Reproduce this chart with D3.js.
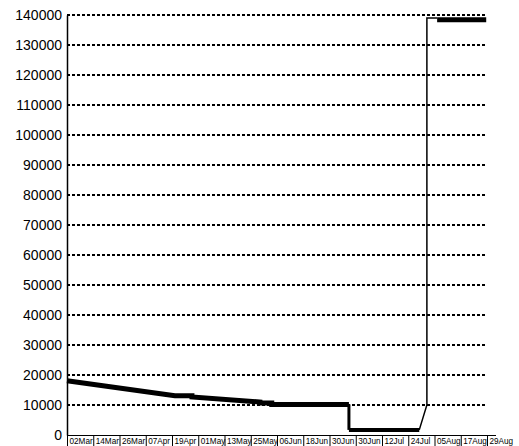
<!DOCTYPE html>
<html>
<head>
<meta charset="utf-8">
<script src="https://cdn.jsdelivr.net/npm/d3@7"></script>
<style>
  body { margin: 0; background: #fff; }
  text { font-family: "Liberation Sans", Arial, sans-serif; fill: #000; }
</style>
</head>
<body>
<div id="chart"></div>
<script>
// tick labels along the bottom (index position = order)
var dateLabels = ["02Mar", "14Mar", "26Mar", "07Apr", "19Apr", "01May", "13May", "25May",
                  "06Jun", "18Jun", "30Jun", "30Jun", "12Jul", "24Jul", "05Aug", "17Aug", "29Aug"];
var yTicks = [0, 10000, 20000, 30000, 40000, 50000, 60000, 70000,
              80000, 90000, 100000, 110000, 120000, 130000, 140000];

// series as [label index position, value]
var declineSeries = [[0, 18100], [4.11, 13100], [4.76, 13100], [4.76, 12700], [7.35, 11000],
                     [7.35, 10700], [7.8, 10700], [7.8, 10200], [10.74, 10200]];
var dropSeries = [[10.74, 10200], [10.74, 1700]];
var lowSeries = [[10.74, 1700], [13.42, 1700]];
var jumpSeries = [[13.42, 1700], [13.71, 10000], [13.71, 139000], [14.1, 139000]];
var topSeries = [[14.1, 138400], [15.97, 138400]];

var fullwidth = 519, fullheight = 446;
var margin = {top: 15, right: 32, bottom: 11, left: 67};
var width = fullwidth - margin.left - margin.right;
var height = fullheight - margin.top - margin.bottom;

var svg = d3.select("#chart").append("svg")
    .attr("width", fullwidth)
    .attr("height", fullheight)
    .append("g")
    .attr("transform", "translate(" + margin.left + "," + margin.top + ")");

var xScale = d3.scaleLinear().domain([0, dateLabels.length - 1]).range([0, width]);
var yScale = d3.scaleLinear().domain([0, 140000]).range([height, 0]);

// dashed grid
svg.selectAll("line.grid")
    .data(yTicks.filter(function(d) { return d > 0; }))
    .enter().append("line")
    .attr("class", "grid")
    .attr("x1", 0).attr("x2", xScale(16) - 1)
    .attr("y1", function(d) { return yScale(d); })
    .attr("y2", function(d) { return yScale(d); })
    .attr("stroke", "#000")
    .attr("stroke-width", 2)
    .attr("stroke-dasharray", "3,2");

// y axis
var yAxis = d3.axisLeft(yScale).tickValues(yTicks).tickSize(0).tickPadding(5)
    .tickFormat(d3.format("d"));
var gy = svg.append("g").call(yAxis);
gy.select(".domain").attr("stroke-width", 1.5);
gy.selectAll("text")
    .style("font-size", "14px")
    .style("font-family", "Liberation Sans, Arial, sans-serif");

// x axis
var xAxis = d3.axisBottom(xScale)
    .tickValues(d3.range(dateLabels.length))
    .tickSize(11)
    .tickSizeOuter(0)
    .tickFormat(function(d) { return dateLabels[d]; });
var gx = svg.append("g")
    .attr("transform", "translate(0," + height + ")")
    .call(xAxis);
gx.select(".domain").attr("d", "M0,0.5H" + (xScale(16) + 9));
gx.selectAll("line").attr("stroke-width", 1);
gx.selectAll("text")
    .attr("text-anchor", "start")
    .attr("x", 2)
    .attr("y", 0)
    .attr("dy", 8.5)
    .style("font-size", "8.2px")
    .style("font-family", "Liberation Sans, Arial, sans-serif");

var line = d3.line()
    .x(function(d) { return xScale(d[0]); })
    .y(function(d) { return yScale(d[1]); });

function drawSeries(data, w) {
    svg.append("path")
        .datum(data)
        .attr("d", line)
        .attr("fill", "none")
        .attr("stroke", "#000")
        .attr("stroke-width", w)
        .attr("stroke-linejoin", "miter");
}

drawSeries(declineSeries, 5);
drawSeries(dropSeries, 3);
drawSeries(lowSeries, 4);
drawSeries(jumpSeries, 1.5);
drawSeries(topSeries, 5);
</script>
</body>
</html>
